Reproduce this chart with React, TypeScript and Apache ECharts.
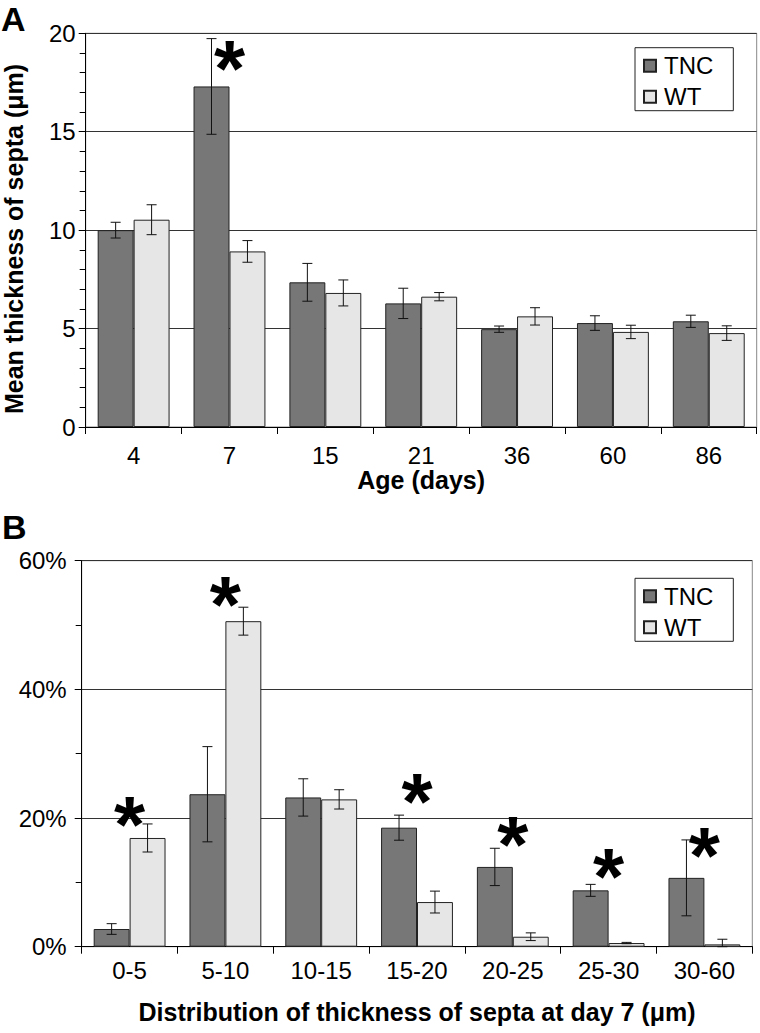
import React, { useEffect, useRef } from 'react';
import * as echarts from 'echarts';

// ---------- Panel A data ----------
const ageCategories = ['4', '7', '15', '21', '36', '60', '86'];
const tncThickness = [10.0, 17.3, 7.35, 6.28, 4.97, 5.28, 5.37];
const tncThicknessErr = [0.4, 2.43, 0.96, 0.77, 0.16, 0.37, 0.31];
const wtThickness = [10.53, 8.92, 6.81, 6.62, 5.62, 4.83, 4.77];
const wtThicknessErr = [0.76, 0.55, 0.66, 0.21, 0.44, 0.34, 0.37];
const thicknessStars = [[1, 18.8]];

// ---------- Panel B data ----------
const distCategories = ['0-5', '5-10', '10-15', '15-20', '20-25', '25-30', '30-60'];
const tncDist = [2.75, 23.7, 23.2, 18.5, 12.4, 8.76, 10.7];
const tncDistErr = [0.83, 7.4, 2.9, 1.95, 2.9, 0.93, 5.9];
const wtDist = [16.9, 50.6, 22.9, 6.94, 1.55, 0.57, 0.36];
const wtDistErr = [2.18, 2.17, 1.5, 1.7, 0.6, 0.1, 0.8];
const distStars = [[0, 20.9], [1, 55.0], [3, 24.4], [4, 17.7], [5, 12.7], [6, 16.1]];

const FONT = 'Liberation Sans';
const TNC_COLOR = '#777777';
const WT_COLOR = '#e6e6e6';
const BAR_BORDER = '#222222';
const TICK_FS = 24;
const TITLE_FS = 25;

function errData(vals: number[], errs: number[], s: number) {
  return vals.map((v, i) => [i, v, errs[i], s]);
}

const errRender = (params: any, api: any) => {
  const ci = api.value(0);
  const v = api.value(1);
  const e = api.value(2);
  const s = api.value(3);
  const band = api.size([1, 0])[0];
  const bw = (band * 0.75) / 2;
  const cx = api.coord([ci, v])[0] + (s === 0 ? -bw / 2 : bw / 2);
  const yTop = api.coord([ci, v + e])[1];
  const yBot = api.coord([ci, Math.max(0, v - e)])[1];
  const style = { stroke: '#111', lineWidth: 1 };
  return {
    type: 'group',
    children: [
      { type: 'line', shape: { x1: cx, y1: yTop, x2: cx, y2: yBot }, style },
      { type: 'line', shape: { x1: cx - 5, y1: yTop, x2: cx + 5, y2: yTop }, style },
      { type: 'line', shape: { x1: cx - 5, y1: yBot, x2: cx + 5, y2: yBot }, style },
    ],
  };
};

const starRender = (params: any, api: any) => {
  const p = api.coord([api.value(0), api.value(1)]);
  return {
    type: 'text',
    x: p[0],
    y: p[1] + 12,
    style: {
      text: '*',
      fontSize: 80,
      fontWeight: 'bold',
      fontFamily: FONT,
      fill: '#000',
      align: 'center',
      verticalAlign: 'middle',
    },
  };
};

function xAxisCfg(gridIndex: number, data: string[], name: string, labelMargin: number, nameGap: number) {
  return {
    gridIndex,
    type: 'category',
    data,
    axisLine: { show: true, lineStyle: { color: '#000', width: 1 } },
    axisTick: { show: true, length: 7, alignWithLabel: false, lineStyle: { color: '#000' } },
    axisLabel: { fontSize: TICK_FS, color: '#000', fontFamily: FONT, margin: labelMargin },
    name,
    nameLocation: 'middle',
    nameGap,
    nameTextStyle: { fontSize: TITLE_FS, fontWeight: 'bold', color: '#000', fontFamily: FONT },
  };
}

function yAxisCfg(gridIndex: number, max: number, interval: number, minorSplit: number, margin: number, fmt?: string) {
  return {
    gridIndex,
    type: 'value',
    min: 0,
    max,
    interval,
    axisLine: { show: true, lineStyle: { color: '#000', width: 1 } },
    axisTick: { show: true, length: 7, lineStyle: { color: '#000' } },
    minorTick: { show: true, splitNumber: minorSplit, length: 6, lineStyle: { color: '#000' } },
    splitLine: { show: true, lineStyle: { color: '#333', width: 1 } },
    axisLabel: {
      fontSize: TICK_FS,
      color: '#000',
      fontFamily: FONT,
      margin,
      formatter: fmt ? fmt : '{value}',
    },
  };
}

function legendCfg(top: number) {
  return {
    data: ['TNC', 'WT'],
    orient: 'vertical',
    left: 635,
    top,
    icon: 'rect',
    itemWidth: 12,
    itemHeight: 12,
    itemGap: 7,
    padding: [6, 20, 2, 8],
    borderColor: '#222',
    borderWidth: 1,
    backgroundColor: '#fff',
    textStyle: { fontSize: 24, color: '#000', fontFamily: FONT, padding: [0, 0, 0, 3] },
  };
}

function barSeries(name: string, data: number[], color: string, idx: number) {
  return {
    name,
    type: 'bar',
    xAxisIndex: idx,
    yAxisIndex: idx,
    data,
    barGap: '0%',
    barCategoryGap: '25%',
    itemStyle: { color, borderColor: BAR_BORDER, borderWidth: 1 },
    silent: true,
  };
}

export default function App() {
  const ref = useRef<HTMLDivElement>(null);
  useEffect(() => {
    if (!ref.current) return;
    const chart = echarts.init(ref.current, undefined, { renderer: 'svg' });
    chart.setOption({
      animation: false,
      backgroundColor: '#fff',
      textStyle: { fontFamily: FONT },
      grid: [
        { left: 85.7, top: 33.3, right: 3.3, bottom: 606, show: true, borderColor: '#888', borderWidth: 1, containLabel: false },
        { left: 81.7, top: 560.7, right: 7.7, bottom: 86.3, show: true, borderColor: '#888', borderWidth: 1, containLabel: false },
      ],
      xAxis: [
        xAxisCfg(0, ageCategories, 'Age (days)', 16, 25),
        xAxisCfg(1, distCategories, 'Distribution of thickness of septa at day 7 (μm)', 12, 53),
      ],
      yAxis: [
        yAxisCfg(0, 20, 5, 5, 10),
        yAxisCfg(1, 60, 20, 2, 15, '{value}%'),
      ],
      legend: [legendCfg(47.7), legendCfg(578.3)],
      graphic: [
        { type: 'text', left: 1, top: 2, style: { text: 'A', fontSize: 34, fontWeight: 'bold', fontFamily: FONT, fill: '#000' } },
        { type: 'text', left: 2, top: 510, style: { text: 'B', fontSize: 34, fontWeight: 'bold', fontFamily: FONT, fill: '#000' } },
        {
          type: 'text',
          x: 14,
          y: 239,
          rotation: Math.PI / 2,
          style: {
            text: 'Mean thickness of septa (μm)',
            fontSize: TITLE_FS,
            fontWeight: 'bold',
            fontFamily: FONT,
            fill: '#000',
            align: 'center',
            verticalAlign: 'middle',
          },
        },
      ],
      series: [
        barSeries('TNC', tncThickness, TNC_COLOR, 0),
        barSeries('WT', wtThickness, WT_COLOR, 0),
        {
          type: 'custom',
          xAxisIndex: 0,
          yAxisIndex: 0,
          renderItem: errRender,
          data: [...errData(tncThickness, tncThicknessErr, 0), ...errData(wtThickness, wtThicknessErr, 1)],
          z: 5,
          silent: true,
          clip: false,
        },
        {
          type: 'custom',
          xAxisIndex: 0,
          yAxisIndex: 0,
          renderItem: starRender,
          data: thicknessStars,
          z: 6,
          silent: true,
          clip: false,
        },
        barSeries('TNC', tncDist, TNC_COLOR, 1),
        barSeries('WT', wtDist, WT_COLOR, 1),
        {
          type: 'custom',
          xAxisIndex: 1,
          yAxisIndex: 1,
          renderItem: errRender,
          data: [...errData(tncDist, tncDistErr, 0), ...errData(wtDist, wtDistErr, 1)],
          z: 5,
          silent: true,
          clip: false,
        },
        {
          type: 'custom',
          xAxisIndex: 1,
          yAxisIndex: 1,
          renderItem: starRender,
          data: distStars,
          z: 6,
          silent: true,
          clip: false,
        },
      ],
    });
    return () => chart.dispose();
  }, []);
  return (
    <div
      ref={ref}
      style={{ position: 'fixed', left: 0, top: 0, width: 760, height: 1033, background: '#fff' }}
    />
  );
}
